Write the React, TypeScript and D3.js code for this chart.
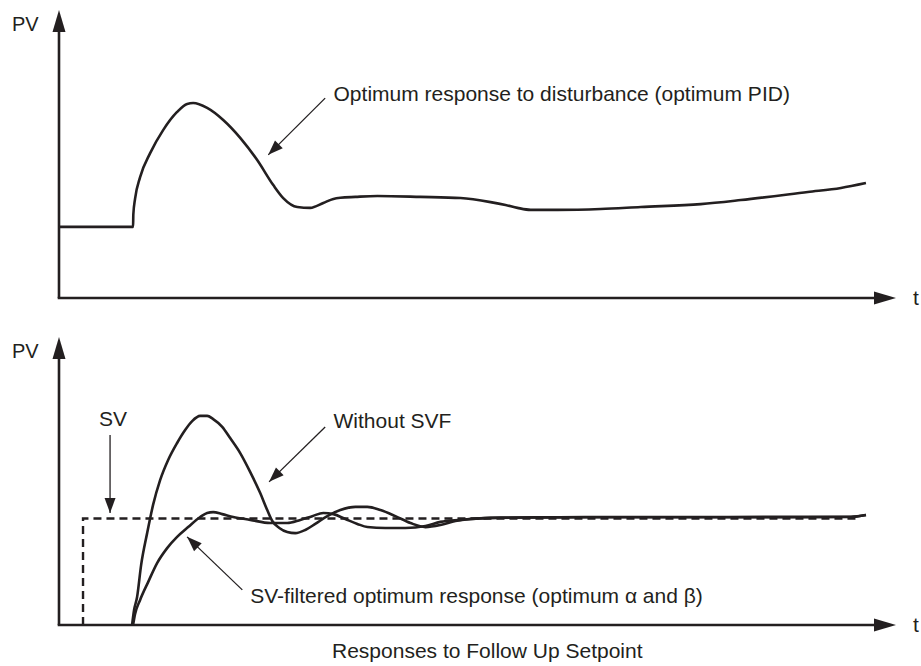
import * as d3 from "d3";

// time axis and PV axis both run 0..100 (arrow tip = 100)
const T_DOMAIN = [0, 100];
const PV_DOMAIN = [0, 100];

// top: disturbance response with optimum PID, [t, PV]
const disturbanceResponse: [number, number][] = [
  [0, 24.7], [8.85, 24.7], [8.88, 29.0], [9.09, 34.5], [9.69, 42.0], [10.89, 50.3],
  [12.44, 58.3], [14.11, 64.6], [15.31, 67.4], [16.03, 67.7], [17.7, 66.0], [19.62, 61.8],
  [21.65, 55.6], [23.68, 47.9], [25.6, 39.2], [26.79, 34.7], [28.47, 31.6], [30.02, 31.3],
  [31.58, 33.0], [32.78, 34.4], [33.61, 34.8], [35.41, 35.1], [38.04, 35.4], [43.18, 35.1],
  [47.97, 34.7], [51.56, 33.3], [53.35, 32.3], [54.78, 31.3], [56.34, 30.6], [59.57, 30.6],
  [64.71, 30.9], [69.5, 31.6], [76.67, 32.6], [81.46, 34.0], [89.47, 36.8], [93.42, 38.2],
  [96.41, 39.9],
];

// bottom: setpoint step response without SV filter
const withoutSvf: [number, number][] = [
  [8.73, 0], [8.97, 5.2], [9.33, 9.7], [9.81, 20.8], [10.53, 31.9], [11.24, 41.7],
  [12.08, 50.3], [13.04, 57.3], [14.11, 63.2], [15.07, 67.7], [15.91, 70.8], [16.87, 72.6],
  [17.7, 72.6], [18.42, 71.5], [19.5, 68.8], [20.45, 64.9], [21.65, 59.7], [22.85, 53.1],
  [24.04, 45.8], [24.88, 39.9], [25.48, 36.1], [26.32, 33.7], [27.27, 32.3], [28.23, 31.9],
  [29.43, 33.0], [30.62, 35.1], [32.06, 37.8], [33.61, 39.9], [35.41, 41.0], [36.84, 41.0],
  [38.4, 39.9], [40.19, 37.8], [41.99, 35.4], [43.78, 34.0], [45.57, 34.7], [47.37, 36.1],
  [49.16, 36.8], [52.75, 37.3], [64.71, 37.4], [76.67, 37.4], [88.64, 37.4], [94.62, 37.5],
  [96.41, 38.2],
];

// bottom: SV-filtered optimum response
const svFiltered: [number, number][] = [
  [8.85, 0], [9.09, 3.8], [9.69, 8.7], [10.65, 14.9], [11.72, 21.5], [12.92, 26.7],
  [14.11, 30.6], [15.43, 34.0], [16.87, 37.5], [17.7, 38.9], [18.42, 39.2], [19.5, 38.5],
  [20.81, 37.5], [22.85, 36.5], [25.24, 35.4], [27.27, 35.4], [28.83, 36.5], [30.26, 37.8],
  [31.58, 38.9], [32.78, 38.5], [34.21, 36.8], [35.65, 35.1], [36.84, 34.0], [38.99, 33.7],
  [41.39, 33.7], [43.78, 34.4], [45.57, 35.8], [47.97, 36.5], [51.56, 37.2], [64.71, 37.5],
  [80.0, 37.5], [94.62, 37.6], [96.41, 38.2],
];

// setpoint (dashed)
const setpoint: [number, number][] = [[2.87, 0], [2.87, 37.0], [95.7, 37.0]];

// annotations: [t, PV] of arrow tail, arrow tip and label
const topNotes = [
  { text: "Optimum response to disturbance (optimum PID)", from: [31.8, 69.4], to: [25.0, 49.7], at: [32.8, 68.4], anchor: "start" },
];
const bottomNotes = [
  { text: "Without SVF", from: [31.8, 68.75], to: [25.1, 49.7], at: [32.8, 68.4], anchor: "start" },
  { text: "SV", from: [6.1, 66.0], to: [6.1, 38.9], at: [6.46, 69.1], anchor: "middle" },
  { text: "SV-filtered optimum response (optimum α and β)", from: [21.9, 12.2], to: [15.3, 30.6], at: [22.85, 7.6], anchor: "start" },
];

const INK = "#231f20";
const FONT = "'Liberation Sans', Arial, sans-serif";
const FS = 21;

function head(x1: number, y1: number, x2: number, y2: number, len: number, w: number) {
  const a = Math.atan2(y2 - y1, x2 - x1);
  const bx = x2 - len * Math.cos(a);
  const by = y2 - len * Math.sin(a);
  const px = (w / 2) * Math.sin(a);
  const py = (w / 2) * Math.cos(a);
  return `${x2},${y2} ${bx + px},${by - py} ${bx - px},${by + py}`;
}

function Panel({ y0, y1, children }: { y0: number; y1: number; children: (x: any, y: any) => any }) {
  const x = d3.scaleLinear().domain(T_DOMAIN).range([59, 896]);
  const y = d3.scaleLinear().domain(PV_DOMAIN).range([y0, y1]);
  const ox = x(0), oy = y(0);
  const tipX = x(100), tipY = y(100);
  return (
    <g>
      <line x1={ox} y1={oy} x2={ox} y2={tipY + 18} stroke={INK} strokeWidth={2.6} />
      <polygon points={head(ox, oy, ox, tipY, 22, 13)} fill={INK} />
      <line x1={ox - 1.3} y1={oy} x2={tipX - 18} y2={oy} stroke={INK} strokeWidth={2.6} />
      <polygon points={head(ox, oy, tipX, oy, 22, 13)} fill={INK} />
      <text x={12} y={tipY + 21} fontSize={20} fill={INK} fontFamily={FONT}>PV</text>
      <text x={913} y={oy + 7} fontSize={FS} fill={INK} fontFamily={FONT}>t</text>
      {children(x, y)}
    </g>
  );
}

function Notes({ notes, x, y }: { notes: any[]; x: any; y: any }) {
  return (
    <g>
      {notes.map((n) => {
        const [fx, fy] = [x(n.from[0]), y(n.from[1])];
        const [tx, ty] = [x(n.to[0]), y(n.to[1])];
        return (
          <g key={n.text}>
            <line x1={fx} y1={fy} x2={tx} y2={ty} stroke={INK} strokeWidth={1.3} />
            <polygon points={head(fx, fy, tx, ty, 15, 11)} fill={INK} />
            <text x={x(n.at[0])} y={y(n.at[1])} textAnchor={n.anchor} fontSize={FS} fill={INK} fontFamily={FONT}>
              {n.text}
            </text>
          </g>
        );
      })}
    </g>
  );
}

export default function App() {
  const curve = (x: any, y: any) =>
    d3.line<[number, number]>().x((d) => x(d[0])).y((d) => y(d[1])).curve(d3.curveMonotoneX);
  const straight = (x: any, y: any) =>
    d3.line<[number, number]>().x((d) => x(d[0])).y((d) => y(d[1]));

  return (
    <svg width={921} height={666} style={{ position: "absolute", left: 0, top: 0, background: "#fff" }}>
      <Panel y0={298} y1={10}>
        {(x, y) => (
          <g>
            <path d={curve(x, y)(disturbanceResponse) || ""} fill="none" stroke={INK} strokeWidth={2.6} />
            <Notes notes={topNotes} x={x} y={y} />
          </g>
        )}
      </Panel>
      <Panel y0={625} y1={337}>
        {(x, y) => (
          <g>
            <path d={straight(x, y)(setpoint) || ""} fill="none" stroke={INK} strokeWidth={2.4} strokeDasharray="8 5" />
            <path d={curve(x, y)(withoutSvf) || ""} fill="none" stroke={INK} strokeWidth={2.6} />
            <path d={curve(x, y)(svFiltered) || ""} fill="none" stroke={INK} strokeWidth={2.6} />
            <Notes notes={bottomNotes} x={x} y={y} />
          </g>
        )}
      </Panel>
      <text x={332} y={658} fontSize={FS} fill={INK} fontFamily={FONT}>
        Responses to Follow Up Setpoint
      </text>
    </svg>
  );
}
